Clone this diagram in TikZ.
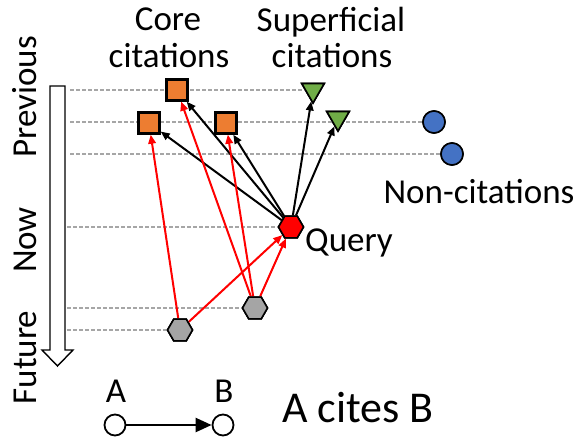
\documentclass[tikz,border=0pt]{standalone}
\usepackage{fontspec}
\setmainfont{Carlito}
\usetikzlibrary{shapes.geometric,arrows.meta}
\definecolor{coreorange}{HTML}{ED7D31}
\definecolor{supgreen}{HTML}{70AD47}
\definecolor{nonblue}{HTML}{4472C4}
\definecolor{paperGray}{HTML}{A5A5A5}
\definecolor{guideGray}{HTML}{A6A6A6}
\begin{document}
\begin{tikzpicture}[x=1pt,y=-1pt,
  lbl/.style={font=\fontsize{35}{40}\selectfont, inner sep=0pt},
  biglbl/.style={font=\fontsize{44}{50}\selectfont, inner sep=0pt},
  core/.style={rectangle, draw=black, line width=2.4pt, fill=coreorange, minimum size=21pt, inner sep=0pt},
  superficial/.style={regular polygon, regular polygon sides=3, shape border rotate=180, draw=black, line width=1.6pt, fill=supgreen, minimum size=26pt, inner sep=0pt},
  noncite/.style={circle, draw=black, line width=1.6pt, fill=nonblue, minimum size=22pt, inner sep=0pt},
  paper/.style={regular polygon, regular polygon sides=6, draw=black, line width=1.6pt, fill=paperGray, minimum size=25pt, inner sep=0pt},
  query/.style={paper, fill=red},
  legendnode/.style={circle, draw=black, line width=1.8pt, fill=white, minimum size=21pt, inner sep=0pt},
  guide/.style={draw=guideGray, line width=2.2pt, dash pattern=on 4pt off 2pt},
  cite/.style={-{Triangle[length=9pt,width=7.5pt]}, line width=2pt},
]
\useasboundingbox (0,0) rectangle (579,440);

% time axis
\draw[line width=1.4pt, fill=white] (50,86) -- (65,86) -- (65,350) -- (73,350)
  -- (57.5,366) -- (42,350) -- (50,350) -- cycle;
\node[lbl, rotate=90, anchor=base] (tprev) at (36,97) {Previous};
\node[lbl, rotate=90, anchor=base] (tnow) at (36,240) {Now};
\node[lbl, rotate=90, anchor=base] (tfut) at (36,357.5) {Future};

% papers (positions)
\node[core] (s1) at (177,90) {};
\node[core] (s2) at (149,123) {};
\node[core] (s3) at (226,123) {};
\node[superficial] (t1) at (313,90) {};
\node[superficial] (t2) at (338,118) {};
\node[noncite] (c1) at (434,122) {};
\node[noncite] (c2) at (452,154) {};
\node[query] (q) at (291,227) {};
\node[paper] (g2) at (255,308) {};
\node[paper] (g1) at (180,330) {};

% time guides
\coordinate (d1) at (70,90);
\coordinate (d2) at (70,122);
\coordinate (d3) at (70,154);
\coordinate (d4) at (67,227);
\coordinate (d5) at (67,308);
\coordinate (d6) at (67,330);
\path[guide] (d1) -- (t1.center |- d1);
\path[guide] (d2) -- (c1);
\path[guide] (d3) -- (c2);
\path[guide] (d4) -- (q);
\path[guide] (d5) -- (g2);
\path[guide] (d6) -- (g1);

% citation links
\draw[cite] (q) -- (s1);
\draw[cite] (q) -- (s2);
\draw[cite] (q) -- (s3);
\draw[cite] (q) -- (t1);
\draw[cite] (q) -- (t2);
\draw[cite, red] (g1) -- (s2);
\draw[cite, red] (g1) -- (q);
\draw[cite, red] (g2) -- (s1);
\draw[cite, red] (g2) -- (s3);
\draw[cite, red] (g2) -- (q);

% papers again, on top of guides and links
\node[core] at (s1) {};
\node[core] at (s2) {};
\node[core] at (s3) {};
\node[superficial] at (t1) {};
\node[superficial] at (t2) {};
\node[noncite] at (c1) {};
\node[noncite] at (c2) {};
\node[query] at (q) {};
\node[paper] at (g2) {};
\node[paper] at (g1) {};

% group labels
\node[lbl, anchor=base] (core1) at (168,30) {Core};
\node[lbl, anchor=base] (core2) at (169,67) {citations};
\node[lbl, anchor=base] (sup1) at (331,31) {Superficial};
\node[lbl, anchor=base] (sup2) at (332,67) {citations};
\node[lbl, anchor=base] (non) at (479,203) {Non-citations};
\node[lbl, anchor=base west] (qlbl) at (305,251) {Query};

% legend
\node[legendnode] (la) at (115,425) {};
\node[legendnode] (lb) at (223,425) {};
\node[lbl, anchor=base] (lat) at (116,402) {A};
\node[lbl, anchor=base] (lbt) at (224,402) {B};
\draw[line width=2.4pt, -{Triangle[length=16pt,width=14pt]}] (la) -- (lb);
\node[biglbl, anchor=base west] (cites) at (282,422) {A cites B};
\end{tikzpicture}
\end{document}
